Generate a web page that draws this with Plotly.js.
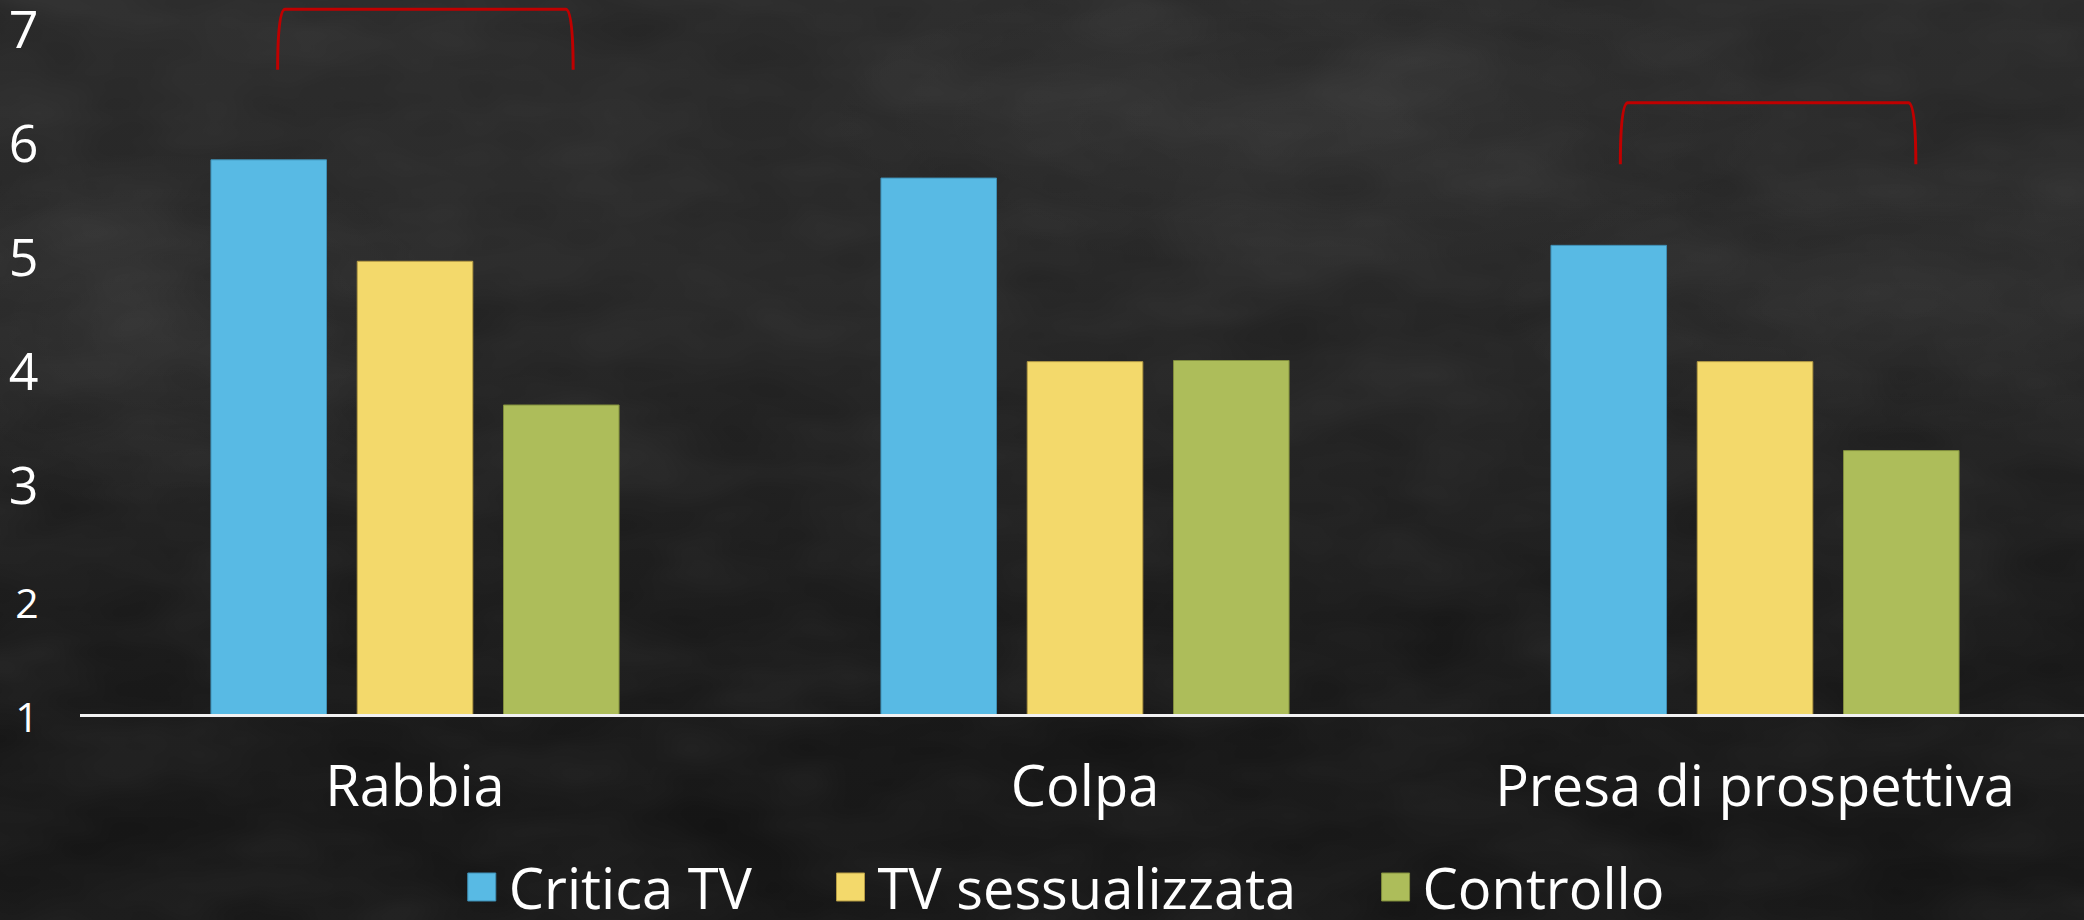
<!DOCTYPE html>
<html>
<head>
<meta charset="utf-8">
<script src="https://cdn.plot.ly/plotly-3.0.1.min.js"></script>
<style>
html, body { margin: 0; padding: 0; width: 2084px; height: 920px; overflow: hidden; }
body {
  background-color: #1b1b1b;
  background-image:
    radial-gradient(ellipse 420px 260px at 160px 330px, rgba(255,255,255,0.05), rgba(255,255,255,0) 70%),
    radial-gradient(ellipse 700px 220px at 1300px 120px, rgba(255,255,255,0.04), rgba(255,255,255,0) 70%),
    radial-gradient(ellipse 600px 200px at 1900px 300px, rgba(255,255,255,0.04), rgba(255,255,255,0) 70%),
    linear-gradient(to bottom, #262626 0%, #232323 30%, #1b1b1b 55%, #141414 75%, #121212 90%, #141414 100%);
}
#texture {
  position: absolute; left: 0; top: 0; width: 2084px; height: 920px; opacity: 0.10; pointer-events: none;
  background-image: url("data:image/svg+xml;utf8,<svg xmlns='http://www.w3.org/2000/svg' width='2084' height='920'><filter id='n'><feTurbulence type='fractalNoise' baseFrequency='0.006 0.014' numOctaves='3' seed='7'/><feColorMatrix type='saturate' values='0'/></filter><rect width='2084' height='920' filter='url(%23n)'/></svg>");
}
#chart { position: absolute; left: 0; top: 0; width: 2084px; height: 920px; }
</style>
</head>
<body>
<div id="texture"></div>
<div id="chart"></div>
<script>
// ---- data ----
const categories = ['Rabbia', 'Colpa', 'Presa di prospettiva'];
const seriesNames = ['Critica TV', 'TV sessualizzata', 'Controllo'];
const criticaTV = [5.86, 5.70, 5.11];
const tvSessualizzata = [4.97, 4.09, 4.09];
const controllo = [3.71, 4.10, 3.31];
const yTickVals = [1, 2, 3, 4, 5, 6, 7];
const yTickLabels = ['1', '2', '3', '4', '5', '6', '7'];
// significance brackets: category index, top level, leg end level
const bracketCategory = [0, 2];
const bracketTop = [7.18, 6.36];
const bracketBottom = [6.65, 5.82];

// ---- style ----
const colors = ['#58BAE4', '#F3D96B', '#ADBD5A'];
const edge = ['#3f8fb4', '#b59c45', '#7f8c3c'];
const FONT = '"Open Sans", "Noto Sans", sans-serif';
const seriesValues = [criticaTV, tvSessualizzata, controllo];
const legendIds = ['legend', 'legend2', 'legend3'];

const data = seriesValues.map((vals, i) => ({
  type: 'bar',
  name: seriesNames[i],
  x: categories,
  y: vals,
  legend: legendIds[i],
  marker: { color: colors[i], line: { color: edge[i], width: 1 } },
  hoverinfo: 'skip'
}));

// smaller y tick labels for 1 and 2, as in the original
const yTickText = yTickLabels.map((t, i) =>
  yTickVals[i] <= 2 ? '<span style="font-size:41px">' + t + '</span>' : t);

function bracketPath(ci, yt, yb) {
  const off = ci === 0 ? 0 : 0.004;
  const x0 = ci - 0.205 + off, x1 = ci + 0.236 + off, d = 0.011;
  return 'M' + x0 + ',' + yb + ' Q' + x0 + ',' + yt + ' ' + (x0 + d) + ',' + yt +
         ' L' + (x1 - d) + ',' + yt + ' Q' + x1 + ',' + yt + ' ' + x1 + ',' + yb;
}
const shapes = bracketCategory.map((ci, k) => ({
  type: 'path', xref: 'x', yref: 'y',
  path: bracketPath(ci, bracketTop[k], bracketBottom[k]),
  line: { color: '#C00000', width: 3 }
}));

const legendBase = {
  orientation: 'h', xanchor: 'left', yanchor: 'top', y: -0.184,
  bgcolor: 'rgba(0,0,0,0)', borderwidth: 0, itemwidth: 34,
  font: { family: FONT, size: 56, color: '#ffffff' }
};
const legendX = [0.192, 0.376, 0.648];

const layout = {
  width: 2084, height: 920,
  margin: { l: 80, r: 0, t: 7, b: 206, autoexpand: false },
  paper_bgcolor: 'rgba(0,0,0,0)',
  plot_bgcolor: 'rgba(0,0,0,0)',
  barmode: 'group',
  bargap: 0.345,
  bargroupgap: 0.21,
  showlegend: true,
  legend: Object.assign({}, legendBase, { x: legendX[0] }),
  legend2: Object.assign({}, legendBase, { x: legendX[1] }),
  legend3: Object.assign({}, legendBase, { x: legendX[2] }),
  xaxis: {
    type: 'category',
    range: [-0.5, 2.491],
    showline: true, linecolor: '#f2f2f2', linewidth: 3,
    showgrid: false, zeroline: false,
    ticks: 'outside', ticklen: 22, tickcolor: 'rgba(0,0,0,0)',
    tickfont: { family: FONT, size: 56, color: '#ffffff' }
  },
  yaxis: {
    range: [1, 7.2],
    showline: false, showgrid: false, zeroline: false,
    tickmode: 'array', tickvals: yTickVals, ticktext: yTickText,
    ticks: 'outside', ticklen: 30, tickcolor: 'rgba(0,0,0,0)',
    ticklabeloverflow: 'allow',
    tickfont: { family: FONT, size: 52, color: '#ffffff' }
  },
  shapes: shapes
};

const gd = document.getElementById('chart');
Plotly.newPlot(gd, data, layout, { staticPlot: true, displayModeBar: false }).then(() => {
  gd.querySelectorAll('.legendpoints path').forEach(p => p.setAttribute('d', 'M9,14H-19V-14H9Z'));
});
</script>
</body>
</html>
